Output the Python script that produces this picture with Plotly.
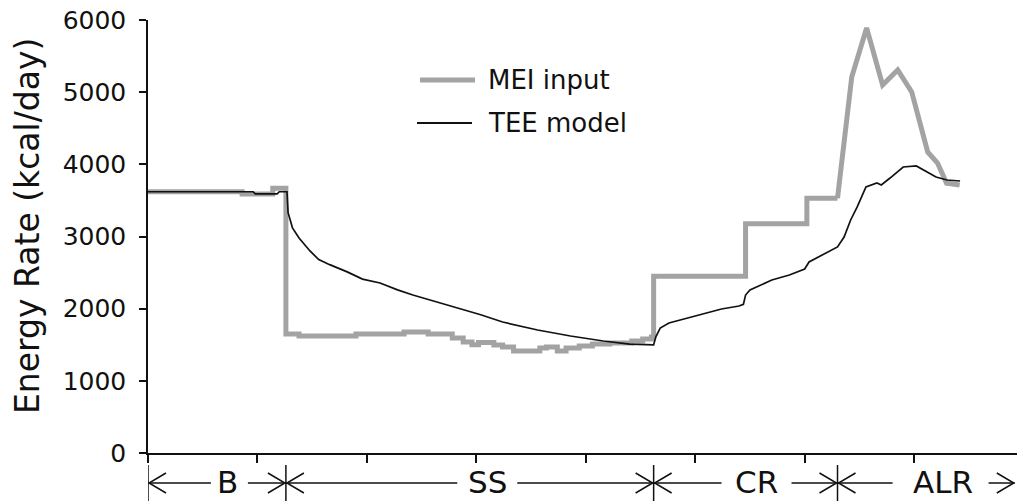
import plotly.graph_objects as go

# ---- data -----------------------------------------------------------------
# Metabolizable energy intake (MEI), weekly step values (day, kcal/day)
mei_step_days = [0, 43, 57, 63, 69, 95, 117, 128, 139, 144, 148, 151, 158, 162,
                 167, 179, 182, 187, 191, 197, 203, 211, 221, 226, 230, 231,
                 273, 301, 315]
mei_step_vals = [3620, 3590, 3670, 1650, 1620, 1650, 1677, 1650, 1594, 1538,
                 1500, 1530, 1497, 1469, 1413, 1455, 1469, 1413, 1455, 1483,
                 1510, 1524, 1552, 1580, 1607, 2450, 3175, 3530, 3530]

# ad libitum refeeding MEI (linear between measurements)
mei_alr_days = [315, 321.5, 328.3, 335.6, 342.5, 348.9, 356.2, 360.7, 364.8, 370.8]
mei_alr_vals = [3530, 5210, 5890, 5100, 5307, 5003, 4171, 4018, 3740, 3714]

# Total energy expenditure (TEE) predicted by the model
tee_days = [0, 48, 49, 59, 60, 63.5, 64, 66, 69, 74, 78, 83, 91, 98, 106, 114,
            121, 129, 136, 144, 152, 162, 178, 193, 208, 220, 231, 232, 234,
            238, 247, 254, 262, 270, 272, 273, 275, 285, 293, 300, 302, 308,
            315, 318, 321, 324, 328, 333, 335, 339, 345, 351, 356, 360, 365, 371]
tee_vals = [3620, 3620, 3590, 3590, 3620, 3620, 3330, 3120, 2980, 2800, 2680,
            2610, 2510, 2410, 2356, 2260, 2190, 2120, 2050, 1990, 1915, 1815,
            1704, 1621, 1552, 1510, 1497, 1610, 1732, 1801, 1870, 1926, 1995,
            2037, 2060, 2189, 2259, 2397, 2467, 2550, 2647, 2744, 2855, 2993,
            3229, 3410, 3686, 3741, 3714, 3810, 3963, 3977, 3894, 3825, 3783,
            3769]

# study phases: baseline, semi-starvation, controlled and ad libitum rehabilitation
phase_names = ["B", "SS", "CR", "ALR"]
phase_edges = [0, 63, 231, 315, 396]
phase_label_days = [36.5, 155, 278, 363]
phase_label_gaps_px = [(17, 20), (30, 30), (35, 35), (50, 46)]

y_ticks = [0, 1000, 2000, 3000, 4000, 5000, 6000]
x_ticks = [0, 50, 100, 150, 200, 250, 300, 350]

# ---- layout geometry ------------------------------------------------------
W, H = 1017, 501
ML, MR, MT, MB = 148, 0, 20, 48
X_RANGE = [0, 397]
Y_RANGE = [0, 6000]
plot_w = W - ML - MR
plot_h = H - MT - MB
days_per_px = (X_RANGE[1] - X_RANGE[0]) / plot_w


def paper_x(px):
    return (px - ML) / plot_w


def paper_y(py):
    return (H - MB - py) / plot_h


FONT = "DejaVu Sans"
INK = "#111111"
GRAY = "#a3a3a3"

fig = go.Figure()

fig.add_trace(go.Scatter(
    x=mei_step_days, y=mei_step_vals, mode="lines", line_shape="hv",
    line=dict(color=GRAY, width=5), showlegend=False, hoverinfo="skip"))
fig.add_trace(go.Scatter(
    x=mei_alr_days, y=mei_alr_vals, mode="lines",
    line=dict(color=GRAY, width=5), showlegend=False, hoverinfo="skip"))
fig.add_trace(go.Scatter(
    x=tee_days, y=tee_vals, mode="lines",
    line=dict(color=INK, width=1.7), showlegend=False, hoverinfo="skip"))

shapes = []
annotations = []

# hand-drawn legend
legend_items = [("MEI input", GRAY, 5, 80, 420, 475),
                ("TEE model", INK, 1.8, 123, 417, 472)]
for text, color, width, py, lx0, lx1 in legend_items:
    shapes.append(dict(type="line", xref="paper", yref="paper",
                       x0=paper_x(lx0), x1=paper_x(lx1),
                       y0=paper_y(py), y1=paper_y(py),
                       line=dict(color=color, width=width)))
    annotations.append(dict(text=text, xref="paper", yref="paper",
                            x=paper_x(486), y=paper_y(py), xanchor="left",
                            yanchor="middle", showarrow=False,
                            font=dict(family=FONT, size=26, color=INK)))

# phase bar under the x axis
row_y = paper_y(483)
for i, name in enumerate(phase_names):
    start, end = phase_edges[i], phase_edges[i + 1]
    c = phase_label_days[i]
    gl, gr = phase_label_gaps_px[i]
    # boundary tick at phase start
    shapes.append(dict(type="line", xref="x", yref="paper", x0=start, x1=start,
                       y0=paper_y(465), y1=paper_y(510),
                       line=dict(color=INK, width=1.5)))
    # arrow shafts
    shapes.append(dict(type="line", xref="x", yref="paper",
                       x0=start, x1=c - gl * days_per_px, y0=row_y, y1=row_y,
                       line=dict(color=INK, width=1.5)))
    shapes.append(dict(type="line", xref="x", yref="paper",
                       x0=c + gr * days_per_px, x1=end, y0=row_y, y1=row_y,
                       line=dict(color=INK, width=1.5)))
    # open arrow heads
    shapes.append(dict(type="path", xref="x", yref="paper",
                       xsizemode="pixel", xanchor=start,
                       ysizemode="pixel", yanchor=row_y,
                       path="M 18,10 L 1,0 L 18,-10",
                       line=dict(color=INK, width=1.5)))
    shapes.append(dict(type="path", xref="x", yref="paper",
                       xsizemode="pixel", xanchor=end,
                       ysizemode="pixel", yanchor=row_y,
                       path="M -18,10 L -1,0 L -18,-10",
                       line=dict(color=INK, width=1.5)))
    annotations.append(dict(text=name, xref="x", yref="paper", x=c,
                            y=paper_y(482), xanchor="center", yanchor="middle",
                            showarrow=False, borderpad=0,
                            font=dict(family=FONT, size=31, color=INK)))

# y-axis title
annotations.append(dict(text="Energy Rate (kcal/day)", xref="paper", yref="paper",
                        x=paper_x(28), y=paper_y(226), xanchor="center",
                        yanchor="middle", textangle=-90, showarrow=False,
                        font=dict(family=FONT, size=33, color=INK)))

fig.update_layout(
    width=W, height=H,
    margin=dict(l=ML, r=MR, t=MT, b=MB, pad=0),
    paper_bgcolor="white", plot_bgcolor="white",
    showlegend=False,
    shapes=shapes, annotations=annotations,
    xaxis=dict(range=X_RANGE, showline=True, linecolor=INK, linewidth=1.5,
               ticks="outside", ticklen=8, tickwidth=1.5, tickcolor=INK,
               tickvals=x_ticks, showticklabels=False, showgrid=False,
               zeroline=False, fixedrange=True),
    yaxis=dict(range=Y_RANGE, showline=True, linecolor=INK, linewidth=1.5,
               ticks="outside", ticklen=7, tickwidth=1.5, tickcolor=INK,
               tickvals=y_ticks, showgrid=False, zeroline=False,
               ticklabelstandoff=8,
               tickfont=dict(family=FONT, size=25, color=INK),
               fixedrange=True),
)

fig.write_html("out.html")
